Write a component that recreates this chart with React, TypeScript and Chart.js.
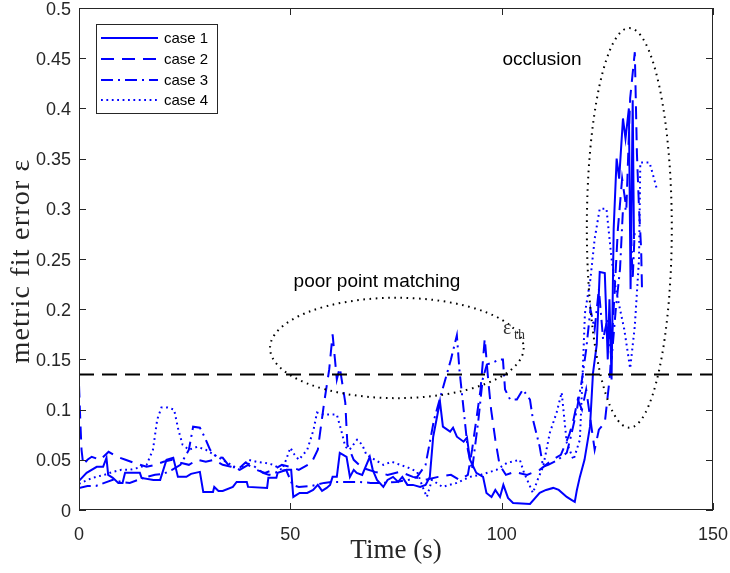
import React, { useEffect, useRef } from "react";
import { Chart, registerables } from "chart.js";

Chart.register(...registerables);

// ---------------- data ----------------
const xTicks = [0, 50, 100, 150];
const xTickLabels = ["0", "50", "100", "150"];
const yTicks = [0, 0.05, 0.1, 0.15, 0.2, 0.25, 0.3, 0.35, 0.4, 0.45, 0.5];
const yTickLabels = ["0", "0.05", "0.1", "0.15", "0.2", "0.25", "0.3", "0.35", "0.4", "0.45", "0.5"];
const seriesNames = ["case 1", "case 2", "case 3", "case 4"];
const threshold = 0.135;

const case1: [number, number][] = [
  [0, 0.029], [1.8, 0.037], [4.2, 0.043], [5.7, 0.043], [6.5, 0.052], [6.9, 0.035], [8, 0.032], [9.3, 0.027],
  [10.3, 0.027], [10.9, 0.037], [14.4, 0.037], [14.8, 0.032], [17.6, 0.03], [19.2, 0.03], [20.7, 0.05], [22.3, 0.052],
  [23.4, 0.033], [25.4, 0.033], [26.5, 0.036], [28.6, 0.038], [29.4, 0.018], [31.7, 0.018], [32, 0.023], [33, 0.019],
  [34, 0.019], [36.4, 0.023], [37.3, 0.028], [39.7, 0.028], [40, 0.023], [44.5, 0.022], [44.8, 0.032], [46.7, 0.032],
  [47, 0.037], [49.2, 0.04], [50.2, 0.04], [50.7, 0.013], [52.2, 0.017], [54, 0.017], [55.4, 0.02], [56.5, 0.025],
  [57.5, 0.019], [58.6, 0.022], [59.4, 0.025], [60, 0.033], [61, 0.033], [61.7, 0.057], [63.3, 0.053], [64.1, 0.033],
  [65, 0.04], [65.7, 0.037], [67, 0.035], [68.8, 0.053], [69.5, 0.04], [70.5, 0.03], [72, 0.023], [73, 0.03],
  [74.3, 0.033], [75.5, 0.028], [76.5, 0.033], [77.7, 0.025], [79, 0.025], [80.7, 0.023], [82, 0.025], [83, 0.033],
  [83.8, 0.073], [85.4, 0.108], [86.1, 0.083], [87.8, 0.078], [88.5, 0.082], [89.4, 0.073], [91, 0.068], [91.8, 0.072],
  [92.5, 0.05], [94, 0.037], [95.6, 0.033], [96.4, 0.017], [97.6, 0.013], [98.5, 0.02], [99.6, 0.013], [100.4, 0.025],
  [101.5, 0.012], [102.7, 0.007], [106.7, 0.006], [109, 0.017], [110.5, 0.02], [112.2, 0.022], [113.5, 0.02], [115.4, 0.013],
  [116.5, 0.01], [117.3, 0.008], [117.8, 0.02], [118.5, 0.033], [119.6, 0.05], [120.9, 0.083], [121.6, 0.136], [122.5, 0.165],
  [123.2, 0.237], [124.4, 0.236], [125.1, 0.15], [125.5, 0.21], [126, 0.13], [126.5, 0.28], [127.2, 0.35], [127.8, 0.33],
  [128.7, 0.39], [129.3, 0.37], [130.1, 0.4], [130.5, 0.22], [131, 0.408], [131.3, 0.27],
];

const case2: [number, number][] = [
  [0, 0.125], [0.3, 0.09], [0.6, 0.06], [1, 0.045], [2, 0.05], [3, 0.053], [5, 0.05], [7, 0.058], [9, 0.053],
  [11, 0.05], [13, 0.047], [16, 0.043], [18, 0.045], [20, 0.048], [22, 0.05], [24, 0.047], [26, 0.045], [28, 0.05],
  [30, 0.048], [32, 0.05], [34, 0.045], [36, 0.043], [38, 0.04], [40, 0.045], [42, 0.04], [44, 0.037], [46, 0.04],
  [48, 0.045], [50, 0.043], [52, 0.04], [55, 0.047], [56.5, 0.06], [58, 0.107], [59.2, 0.14], [60, 0.175], [61, 0.13],
  [61.7, 0.142], [63, 0.107], [63.5, 0.065], [65, 0.05], [67, 0.042], [70, 0.038], [73, 0.035], [76, 0.038], [79, 0.033],
  [82, 0.03], [85, 0.033], [88, 0.035], [90, 0.03], [92, 0.035], [93, 0.06], [94, 0.09], [95, 0.12], [96, 0.171],
  [96.8, 0.13], [97.5, 0.1], [98.5, 0.07], [99.5, 0.045], [101, 0.035], [103, 0.038], [106, 0.035], [109, 0.04],
  [112, 0.05], [114, 0.055], [116, 0.075], [117, 0.09], [118, 0.11], [119, 0.1], [120, 0.12], [121, 0.09], [122, 0.06],
  [123, 0.08], [124.4, 0.087], [125.6, 0.133], [126.5, 0.2], [127.5, 0.28], [128.5, 0.33], [129.5, 0.3], [130.4, 0.41],
  [131.5, 0.456], [132, 0.355], [132.5, 0.3], [133, 0.26], [133.2, 0.22],
];

const case3: [number, number][] = [
  [0, 0.022], [2, 0.024], [4, 0.024], [6, 0.027], [8, 0.03], [10, 0.028], [12, 0.027], [14, 0.03], [16, 0.033],
  [18, 0.035], [20, 0.036], [22, 0.04], [24, 0.045], [26, 0.06], [27, 0.083], [28.6, 0.082], [29.8, 0.072], [31, 0.06],
  [32.5, 0.053], [34, 0.052], [35.7, 0.043], [38, 0.042], [39.3, 0.047], [41, 0.045], [43.5, 0.037], [45, 0.035],
  [47, 0.038], [49, 0.04], [50.5, 0.025], [52, 0.023], [55, 0.024], [58, 0.027], [60, 0.028], [63, 0.028], [66, 0.028],
  [69, 0.027], [72, 0.027], [75, 0.028], [78, 0.03], [80, 0.033], [82, 0.045], [84, 0.09], [86, 0.12], [88, 0.15],
  [89.4, 0.174], [90, 0.14], [91, 0.1], [92, 0.06], [93, 0.04], [94.5, 0.09], [95.5, 0.13], [96.5, 0.145], [98, 0.147],
  [99.5, 0.15], [100.3, 0.15], [100.8, 0.12], [102, 0.11], [103.6, 0.11], [105, 0.12], [106.7, 0.11], [107.4, 0.09],
  [109, 0.063], [109.8, 0.043], [111, 0.045], [113.3, 0.05], [115.4, 0.057], [116.2, 0.07], [117.8, 0.1], [119, 0.13],
  [120, 0.16], [121, 0.2], [122, 0.18], [123, 0.22], [124, 0.17], [125, 0.19], [126, 0.15], [127, 0.2], [128, 0.24],
  [128.7, 0.3], [130.4, 0.3], [131, 0.23], [131.5, 0.28],
];

const case4: [number, number][] = [
  [0, 0.026], [2, 0.03], [4, 0.033], [6, 0.035], [8, 0.038], [10, 0.04], [12, 0.04], [14, 0.042], [16, 0.045],
  [17.5, 0.06], [18.5, 0.09], [19.5, 0.102], [21, 0.102], [22.5, 0.1], [23.5, 0.08], [24.5, 0.065], [26, 0.06],
  [28, 0.063], [30, 0.06], [32, 0.055], [34, 0.05], [36, 0.045], [38, 0.04], [40, 0.05], [42, 0.048], [44, 0.047],
  [46, 0.045], [48, 0.04], [49, 0.05], [50, 0.062], [51, 0.055], [52, 0.05], [54, 0.06], [55.5, 0.08], [56.3, 0.097],
  [58, 0.095], [61, 0.095], [62, 0.08], [63, 0.063], [64, 0.06], [65.8, 0.07], [67, 0.065], [68, 0.055], [70, 0.05],
  [72, 0.045], [74, 0.048], [76, 0.045], [78, 0.042], [80, 0.038], [81.4, 0.022], [82.3, 0.013], [83.5, 0.03],
  [86, 0.023], [89.4, 0.027], [92.5, 0.033], [95, 0.035], [98.8, 0.04], [101.3, 0.047], [104.3, 0.05], [105.3, 0.037],
  [107.4, 0.017], [108.5, 0.03], [109.8, 0.043], [111.4, 0.077], [113, 0.097], [114.2, 0.117], [115.4, 0.067],
  [117, 0.05], [118.5, 0.07], [119.2, 0.14], [119.7, 0.196], [121, 0.23], [122, 0.27], [123.2, 0.3], [124.8, 0.3],
  [126, 0.25], [127, 0.22], [128, 0.2], [129, 0.18], [130.4, 0.141], [131.5, 0.183], [132.5, 0.25], [132.8, 0.346],
  [134, 0.346], [135, 0.346], [136.7, 0.32],
];

// annotation ellipses, in data units: [centre x, centre y, radius x, radius y]
const matchingEllipse = [75.2, 0.1614, 30, 0.05];
const occlusionEllipse = [130.2, 0.281, 10.05, 0.199];

// ---------------- styles ----------------
const BLUE = "#0000ff";
const AXIS = "#262626";
const dashes = [[], [13, 8], [12, 5, 2, 5], [1.8, 3.6]];
const SANS = "'Liberation Sans', Arial, Helvetica, sans-serif";
const SERIF = "'Liberation Serif', 'Times New Roman', serif";

const overlay = {
  id: "overlay",
  afterDatasetsDraw(chart: any) {
    const { ctx, chartArea: a, scales } = chart;
    const xs = scales.x;
    const ys = scales.y;
    ctx.save();

    // ellipses
    ctx.strokeStyle = "#000";
    ctx.lineWidth = 2;
    ctx.lineCap = "butt";
    ctx.setLineDash([1.6, 4.6]);
    for (const e of [matchingEllipse, occlusionEllipse]) {
      const cx = xs.getPixelForValue(e[0]);
      const cy = ys.getPixelForValue(e[1]);
      const rx = Math.abs(xs.getPixelForValue(e[0] + e[2]) - cx);
      const ry = Math.abs(ys.getPixelForValue(e[1] + e[3]) - cy);
      ctx.beginPath();
      ctx.ellipse(cx, cy, rx, ry, 0, 0, Math.PI * 2);
      ctx.stroke();
    }
    ctx.setLineDash([]);

    // annotations
    ctx.fillStyle = "#000";
    ctx.font = `19px ${SANS}`;
    ctx.textAlign = "center";
    ctx.textBaseline = "middle";
    ctx.fillText("poor point matching", 377, 282);
    ctx.fillText("occlusion", 542, 60);
    ctx.fillStyle = "#333";
    ctx.textAlign = "left";
    ctx.textBaseline = "alphabetic";
    ctx.font = `20px ${SERIF}`;
    ctx.fillText("\u03b5", 503, 334);
    ctx.font = `14px ${SERIF}`;
    ctx.fillText("th", 514, 339);

    // axes box
    ctx.strokeStyle = AXIS;
    ctx.lineWidth = 1;
    ctx.strokeRect(a.left + 0.5, a.top + 0.5, a.right - a.left - 1, a.bottom - a.top - 1);

    // inward ticks on all four sides
    const tl = 7;
    ctx.beginPath();
    for (const t of xTicks) {
      const px = Math.round(xs.getPixelForValue(t)) + 0.5;
      ctx.moveTo(px, a.bottom);
      ctx.lineTo(px, a.bottom - tl);
      ctx.moveTo(px, a.top);
      ctx.lineTo(px, a.top + tl);
    }
    for (const t of yTicks) {
      const py = Math.round(ys.getPixelForValue(t)) + 0.5;
      ctx.moveTo(a.left, py);
      ctx.lineTo(a.left + tl, py);
      ctx.moveTo(a.right, py);
      ctx.lineTo(a.right - tl, py);
    }
    ctx.stroke();

    // tick labels
    ctx.fillStyle = AXIS;
    ctx.font = `18px ${SANS}`;
    ctx.textBaseline = "alphabetic";
    ctx.textAlign = "center";
    xTicks.forEach((t, i) => {
      ctx.fillText(xTickLabels[i], xs.getPixelForValue(t), a.bottom + 30);
    });
    ctx.textAlign = "right";
    yTicks.forEach((t, i) => {
      ctx.fillText(yTickLabels[i], a.left - 8, ys.getPixelForValue(t) + 6.5);
    });

    // axis titles
    ctx.fillStyle = "#262626";
    ctx.font = `27px ${SERIF}`;
    ctx.textAlign = "center";
    ctx.fillText("Time (s)", (a.left + a.right) / 2, a.bottom + 48);
    ctx.save();
    ctx.translate(29, 261);
    ctx.rotate(-Math.PI / 2);
    ctx.font = `28px ${SERIF}`;
    try {
      (ctx as any).letterSpacing = "1.2px";
    } catch (e) {}
    ctx.fillText("metric fit error \u03b5", 0, 0);
    ctx.restore();

    // legend
    const lx = 96, ly = 24, lw = 121, lh = 89;
    ctx.fillStyle = "#fff";
    ctx.fillRect(lx, ly, lw, lh);
    ctx.strokeStyle = AXIS;
    ctx.lineWidth = 1;
    ctx.strokeRect(lx + 0.5, ly + 0.5, lw, lh);
    const rows = [38, 59, 80, 100];
    ctx.font = `15px ${SANS}`;
    ctx.textAlign = "left";
    ctx.textBaseline = "middle";
    seriesNames.forEach((name, i) => {
      ctx.strokeStyle = BLUE;
      ctx.lineWidth = 2;
      ctx.setLineDash(dashes[i]);
      ctx.beginPath();
      ctx.moveTo(101, rows[i]);
      ctx.lineTo(158, rows[i]);
      ctx.stroke();
      ctx.setLineDash([]);
      ctx.fillStyle = "#000";
      ctx.fillText(name, 164, rows[i] + 1);
    });

    ctx.restore();
  },
};

export default function App() {
  const ref = useRef<HTMLCanvasElement | null>(null);

  useEffect(() => {
    if (!ref.current) return;
    const all = [case1, case2, case3, case4];
    const datasets: any[] = [
      {
        label: "threshold",
        data: [
          { x: 0, y: threshold },
          { x: 150, y: threshold },
        ],
        borderColor: "#000",
        borderWidth: 2,
        borderDash: [15, 8],
        pointRadius: 0,
      },
    ];
    all.forEach((s, i) => {
      datasets.push({
        label: seriesNames[i],
        data: s.map(([x, y]) => ({ x, y })),
        borderColor: BLUE,
        borderWidth: 2,
        borderDash: dashes[i],
        pointRadius: 0,
        tension: 0,
        fill: false,
      });
    });

    const chart = new Chart(ref.current, {
      type: "line",
      data: { datasets },
      options: {
        animation: false,
        responsive: false,
        devicePixelRatio: 1,
        layout: { padding: { left: 79, top: 8, right: 17, bottom: 63 } },
        plugins: { legend: { display: false }, tooltip: { enabled: false } },
        scales: {
          x: { type: "linear", min: 0, max: 150, display: false },
          y: { type: "linear", min: 0, max: 0.5, display: false },
        },
      },
      plugins: [overlay],
    });
    return () => chart.destroy();
  }, []);

  return (
    <div style={{ position: "absolute", left: 0, top: 0, width: 730, height: 573, background: "#fff" }}>
      <canvas ref={ref} width={730} height={573} style={{ width: 730, height: 573 }} />
    </div>
  );
}
